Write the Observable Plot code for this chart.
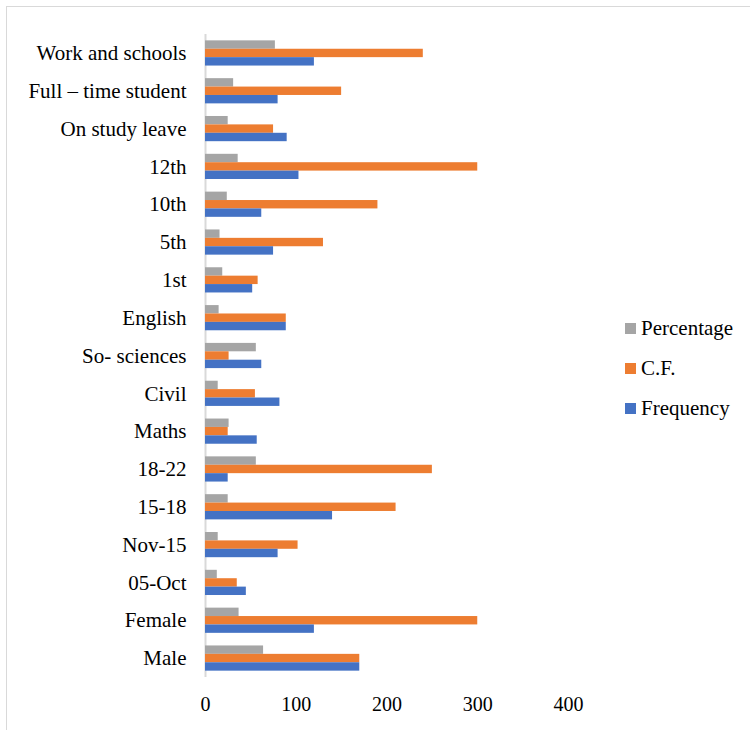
<!DOCTYPE html>
<html><head><meta charset="utf-8">
<script src="https://cdn.jsdelivr.net/npm/d3@7"></script>
<script src="https://cdn.jsdelivr.net/npm/@observablehq/plot@0.6"></script>
<style>
body{margin:0;background:#fff;overflow:hidden;width:750px;height:730px;position:relative;font-family:"Liberation Serif","Times New Roman",serif;}
#frame{position:absolute;left:6px;top:6px;width:800px;height:800px;border:1px solid #d9d9d9;}
#chart{position:absolute;left:0;top:0;}
#legend{position:absolute;left:625px;top:308px;}
.item{display:flex;align-items:center;height:40px;font-size:21px;color:#000;line-height:1}
.sw{width:11px;height:11px;margin-right:5px}
</style></head>
<body>
<div id="frame"></div>
<div id="chart"></div>
<div id="legend"></div>
<script>
const categories = ["Work and schools","Full – time student","On study leave","12th","10th","5th","1st","English","So- sciences","Civil","Maths","18-22","15-18","Nov-15","05-Oct","Female","Male"];
const frequency  = [120, 80, 90, 103, 62, 75, 52, 89, 62, 82, 57, 25, 140, 80, 45, 120, 170];
const cf         = [240, 150, 75, 300, 190, 130, 58, 89, 26, 55, 25, 250, 210, 102, 35, 300, 170];
const percentage = [77, 31, 25, 36, 24, 16, 19, 15, 56, 14, 26, 56, 25, 14, 13, 37, 64];
const seriesNames = ["Percentage","C.F.","Frequency"];
const seriesValues = [percentage, cf, frequency];
const colors = ["#A5A5A5","#ED7D31","#4472C4"];
const xTicks = [0,100,200,300,400];

const rows = categories.map((c,i)=>{
  const r = {category:c};
  seriesNames.forEach((s,k)=>{ r[s] = seriesValues[k][i]; });
  return r;
});

const BW = 8.4;
const chart = Plot.plot({
  width:750, height:730,
  marginLeft:205, marginRight:182, marginTop:34, marginBottom:53,
  style:{fontFamily:"'Liberation Serif', 'Times New Roman', serif", fontSize:"21px", background:"transparent", color:"#000"},
  x:{domain:[0,400], label:null},
  y:{domain:categories, paddingInner:0.778, paddingOuter:0.39, round:false, label:null},
  marks:[
    Plot.ruleX([0],{stroke:"#d9d9d9",strokeWidth:2}),
    ...seriesNames.map((s,k)=>Plot.barX(rows,{x:s,y:"category",fill:colors[k],dy:(k-1)*BW})),
    Plot.axisY({tickSize:0,tickPadding:19,fontSize:21,label:null}),
    Plot.axisX({ticks:xTicks,tickSize:0,tickPadding:19,fontSize:20,label:null})
  ]
});
document.getElementById("chart").appendChild(chart);

const lg = document.getElementById("legend");
seriesNames.forEach((s,k)=>{
  const it = document.createElement("div"); it.className="item";
  const sw = document.createElement("span"); sw.className="sw"; sw.style.background=colors[k];
  const tx = document.createElement("span"); tx.textContent=s;
  it.appendChild(sw); it.appendChild(tx); lg.appendChild(it);
});
</script>
</body></html>
